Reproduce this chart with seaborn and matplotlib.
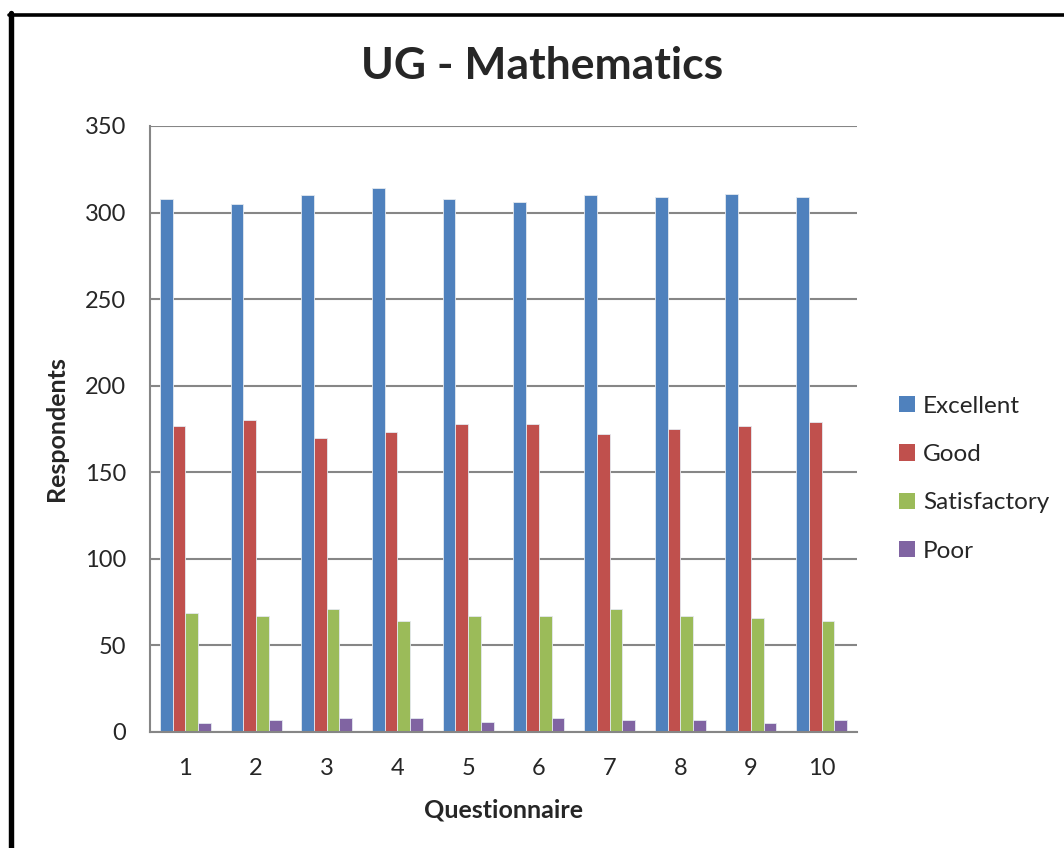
import pandas as pd
import matplotlib
matplotlib.use('Agg')
import matplotlib.pyplot as plt
from matplotlib.lines import Line2D
from matplotlib.patches import Patch
import seaborn as sns

# ── Data ────────────────────────────────────────────────────────────────────
questions = ['1', '2', '3', '4', '5', '6', '7', '8', '9', '10']
excellent = [308, 305, 310, 314, 308, 306, 310, 309, 311, 309]
good = [177, 180, 170, 173, 178, 178, 172, 175, 177, 179]
satisfactory = [69, 67, 71, 64, 67, 67, 71, 67, 66, 64]
poor = [5, 7, 8, 8, 6, 8, 7, 7, 5, 7]

ratings = ['Excellent', 'Good', 'Satisfactory', 'Poor']
colors = ['#4F81BD', '#C0504D', '#9BBB59', '#8064A2']

df = pd.DataFrame({'Questionnaire': questions,
                   'Excellent': excellent, 'Good': good,
                   'Satisfactory': satisfactory, 'Poor': poor})
long_df = df.melt(id_vars='Questionnaire', var_name='Rating',
                  value_name='Respondents')

# ── Plot ────────────────────────────────────────────────────────────────────
sns.set_style('white')
plt.rcParams['font.family'] = ['Lato', 'DejaVu Sans']

fig = plt.figure(figsize=(10.64, 8.48), dpi=100)
ax = fig.add_axes([150 / 1064, 116 / 848, 707 / 1064, 606 / 848])

sns.barplot(data=long_df, x='Questionnaire', y='Respondents', hue='Rating',
            hue_order=ratings, palette=colors, order=questions,
            width=0.72, saturation=1, edgecolor='#e4e9f0', linewidth=0.6,
            legend=False, ax=ax)

ax.set_ylim(0, 350)
ax.set_yticks(range(0, 351, 50))
ax.set_axisbelow(True)
ax.yaxis.grid(True, color='#868686', linewidth=1.5)
ax.xaxis.grid(False)
for side in ['top', 'right']:
    ax.spines[side].set_visible(False)
for side in ['left', 'bottom']:
    ax.spines[side].set_color('#868686')
    ax.spines[side].set_linewidth(1.5)
ax.tick_params(axis='y', length=6, width=1.5, color='#868686',
               labelsize=17, pad=11)
ax.tick_params(axis='x', length=0, labelsize=17, pad=19)

ax.set_xlabel('Questionnaire', fontsize=18, fontweight='bold', labelpad=14)
ax.set_ylabel('Respondents', fontsize=18, fontweight='bold', labelpad=12)
fig.text(542 / 1064, 1 - 66 / 848, 'UG - Mathematics', fontsize=32,
         fontweight='bold', ha='center', va='center')

# legend on the right
handles = [Patch(facecolor=c, edgecolor='none') for c in colors]
fig.legend(handles, ratings, loc='upper left',
           bbox_to_anchor=(877 / 1064, 1 - 374 / 848), frameon=False,
           fontsize=17.5, handlelength=0.65, handleheight=0.65,
           handletextpad=0.35, labelspacing=1.12)

# black frame (left and top edges visible)
fig.add_artist(Line2D([10.8 / 1064, 10.8 / 1064], [0, 1 - 13 / 848],
                      transform=fig.transFigure, color='black', linewidth=3.9))
fig.add_artist(Line2D([9 / 1064, 1], [1 - 14.7 / 848, 1 - 14.7 / 848],
                      transform=fig.transFigure, color='black', linewidth=2.6))

fig.savefig('out.png', dpi=100, facecolor='white')
